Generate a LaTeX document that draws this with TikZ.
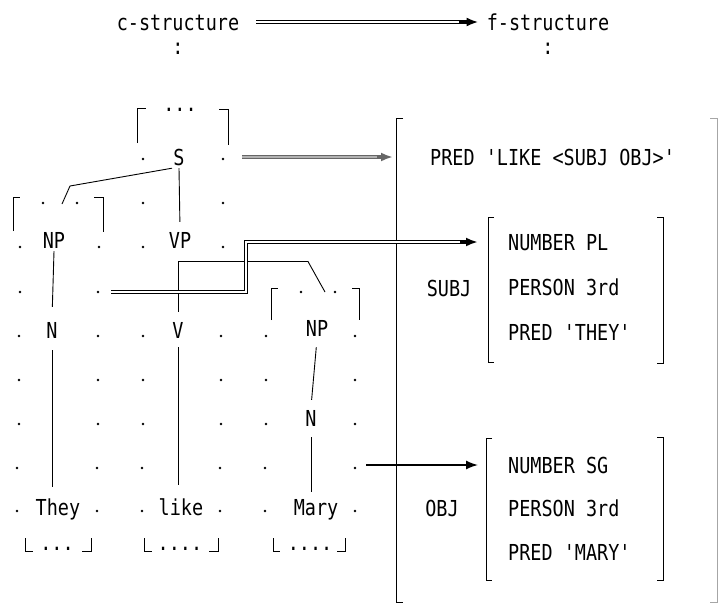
\documentclass[tikz,border=0pt]{standalone}
\usepackage{fontspec}
\setmonofont{DejaVu Sans Mono}[FakeStretch=0.84]
\usetikzlibrary{arrows.meta}

\begin{document}
\begin{tikzpicture}[x=1pt, y=-1pt, font=\ttfamily\fontsize{22}{24}\selectfont,
  word/.style={inner sep=3pt, text height=16pt, text depth=0pt},
  link/.style={line width=0.9pt},
  brack/.style={line width=0.9pt},
  proj/.style={line width=3.6pt, -{Latex[length=12pt, width=9pt]}},
  core/.style={draw=white, line width=1.4pt},
  arr/.style={line width=1.5pt, -{Latex[length=12pt, width=9pt]}}]

\useasboundingbox (0,0) rectangle (718,606);

\node[word] (cstr) at (178,22) {c-structure};
\node[word] (fstr) at (548,22) {f-structure};
\node[word] (ccolon) at (178,46) {:};
\node[word] (fcolon) at (548,46) {:};
\draw[proj, shorten <=14pt, shorten >=5pt] (cstr.east) -- (fstr.west);
\draw[core, shorten <=14pt, shorten >=25pt] (cstr.east) -- (fstr.west);

\foreach \x/\y in {143/159, 223/159, 43/203, 77/203, 143/203, 223/203, 20/247, 99/247, 143/247, 223/247, 20/292, 98/292, 301/292, 335/292}
  \fill (\x,\y) circle (1.3);
\foreach \y in {336,380,424}
  \foreach \x in {19,98,143,221,266,355}
    \fill (\x,\y) circle (1.3);
\foreach \y in {468,511}
  \foreach \x in {17,97,142,220,265,355}
    \fill (\x,\y) circle (1.3);

\node[word] (S) at (179,157) {S};
\node[word] (NPs) at (54,240) {NP};
\node[word] (VP) at (180,240) {VP};
\node[word] (Ns) at (52,330) {N};
\node[word] (V) at (178,330) {V};
\node[word] (NPo) at (317,328) {NP};
\node[word] (No) at (311,418) {N};
\node[word] (they) at (58,507) {They};
\node[word] (like) at (181,507) {like};
\node[word] (mary) at (316,507) {Mary};

\node[anchor=base] (sdots) at (180,111) {...};
\node[anchor=base] (theydots) at (57,550) {...};
\node[anchor=base] (likedots) at (180,550) {....};
\node[anchor=base] (marydots) at (310,550) {....};

\draw[brack] (137,143) -- (137,108.5) -- (146,108.5);
\draw[brack] (219,109.5) -- (228,109.5) -- (228,145);
\draw[brack] (13,231) -- (13,197.5) -- (20,197.5);
\draw[brack] (94,197.5) -- (103,197.5) -- (103,232);
\draw[brack] (271,320) -- (271,288.5) -- (278,288.5);
\draw[brack] (352,288.5) -- (359,288.5) -- (359,320);
\draw[brack] (25,538) -- (25,551.5) -- (33,551.5);
\draw[brack] (82,551.5) -- (91,551.5) -- (91,538);
\draw[brack] (144,538) -- (144,551.5) -- (152,551.5);
\draw[brack] (209,551.5) -- (218,551.5) -- (218,538);
\draw[brack] (273,538) -- (273,551.5) -- (280,551.5);
\draw[brack] (337,551.5) -- (345,551.5) -- (345,538);

\coordinate (npsknee) at (70,186);
\coordinate (npstop) at (62,204);
\coordinate (vpfork) at (178,261.5);
\coordinate (vpknee) at (308,261.5);
\coordinate (npotop) at (325,292);
\draw[link] ([xshift=-7pt]S.south) -- (npsknee) -- (npstop);
\draw[link, shorten >=7pt] (S.south) -- (VP.north);
\draw[link, shorten >=12pt] (NPs.south) -- (Ns.north);
\draw[link, shorten <=9pt, shorten >=9pt] (Ns.south) -- (Ns.south |- they.north);
\draw[link, shorten >=7pt] (vpfork) -- (V.north);
\draw[link] (vpfork) -- (vpknee) -- (npotop);
\draw[link, shorten <=6pt, shorten >=11pt] (V.south) -- (V.south |- like.north);
\draw[link, shorten <=8pt, shorten >=7pt] (NPo.south) -- (No.north);
\draw[link, shorten <=8pt, shorten >=4pt] (No.south) -- (No.south |- mary.north);

\node[word, anchor=west] (predlike) at (427,157) {PRED 'LIKE <SUBJ OBJ>'};
\node[word] (subj) at (449,288) {SUBJ};
\node[word, anchor=west] (numpl) at (505,242) {NUMBER PL};
\node[word, anchor=west] (perssubj) at (505,287) {PERSON 3rd};
\node[word, anchor=west] (predthey) at (505,332) {PRED 'THEY'};
\node[word] (obj) at (442,508) {OBJ};
\node[word, anchor=west] (numsg) at (505,465) {NUMBER SG};
\node[word, anchor=west] (persobj) at (505,508) {PERSON 3rd};
\node[word, anchor=west] (predmary) at (505,552) {PRED 'MARY'};

\draw[brack] (403,118.5) -- (396,118.5) -- (396,602.5) -- (403,602.5);
\draw[brack, black!35] (710,118.5) -- (717,118.5) -- (717,602.5) -- (710,602.5);
\draw[brack] (494,217.5) -- (488,217.5) -- (488,362.5) -- (494,362.5);
\draw[brack] (657,217.5) -- (663,217.5) -- (663,363.5) -- (657,363.5);
\draw[brack] (492,438.5) -- (486,438.5) -- (486,580.5) -- (492,580.5);
\draw[brack] (657,437.5) -- (663,437.5) -- (663,580.5) -- (657,580.5);

\coordinate (npsout) at (111,292);
\coordinate (npoout) at (366,465);
\draw[proj, line width=4.5pt, black!60, shorten <=54pt, shorten >=34pt] (S.east) -- (predlike.west);
\draw[core, draw=black!30, line width=2.2pt, shorten <=54pt, shorten >=50pt] (S.east) -- (predlike.west);
\draw[proj, shorten >=27pt] (npsout) -- ++(135,0) |- (numpl.west);
\draw[core, shorten >=45pt] (npsout) -- ++(135,0) |- (numpl.west);
\draw[arr, shorten >=27pt] (npoout) -- (numsg.west);

\end{tikzpicture}
\end{document}
